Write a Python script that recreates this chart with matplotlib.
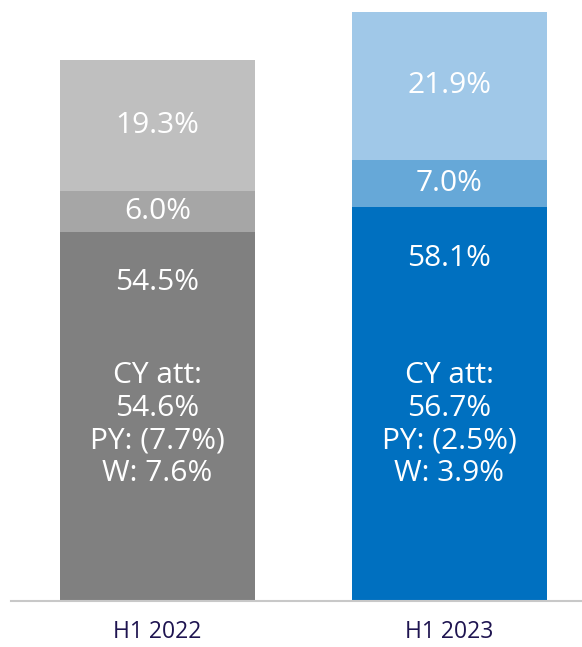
import matplotlib
matplotlib.use("Agg")
import matplotlib.pyplot as plt

plt.rcParams['font.family'] = ['Open Sans', 'DejaVu Sans']

periods = ['H1 2022', 'H1 2023']
current_year = [54.5, 58.1]
middle = [6.0, 7.0]
top = [19.3, 21.9]
details = ['CY att:\n54.6%\nPY: (7.7%)\nW: 7.6%',
           'CY att:\n56.7%\nPY: (2.5%)\nW: 3.9%']

colors_bottom = ['#808080', '#0070c0']
colors_middle = ['#a6a6a6', '#66a8d8']
colors_top = ['#bfbfbf', '#a0c8e8']

fig = plt.figure(figsize=(5.82, 6.47), dpi=100)
ax = fig.add_axes([11 / 582, 46.3 / 647, 1 - 11 / 582, 600.7 / 647])

x = list(range(len(periods)))
w = 0.668
mid_base = current_year
top_base = [a + b for a, b in zip(current_year, middle)]

ax.bar(x, current_year, w, color=colors_bottom)
ax.bar(x, middle, w, bottom=mid_base, color=colors_middle)
ax.bar(x, top, w, bottom=top_base, color=colors_top)

fs = 21.5
for i in x:
    ax.text(i, current_year[i] - 7.5, f'{current_year[i]:.1f}%', ha='center', va='center',
            color='white', fontsize=fs)
    ax.text(i, mid_base[i] + middle[i] / 2, f'{middle[i]:.1f}%', ha='center', va='center',
            color='white', fontsize=fs)
    ax.text(i, top_base[i] + top[i] / 2, f'{top[i]:.1f}%', ha='center', va='center',
            color='white', fontsize=fs)
    ax.text(i, 26, details[i], ha='center', va='center', color='white', fontsize=fs,
            linespacing=1.17)

ax.set_xlim(-0.502, 1.454)
ax.set_ylim(0, 88.7)
for s in ['top', 'right', 'left']:
    ax.spines[s].set_visible(False)
ax.spines['bottom'].set_color('#c8c8c8')
ax.spines['bottom'].set_linewidth(1.5)
ax.set_yticks([])
ax.set_xticks(x)
ax.set_xticklabels(periods, fontsize=16.5, color='#1e1450')
ax.tick_params(axis='x', length=0, pad=14)

fig.savefig('out.png', dpi=100)
